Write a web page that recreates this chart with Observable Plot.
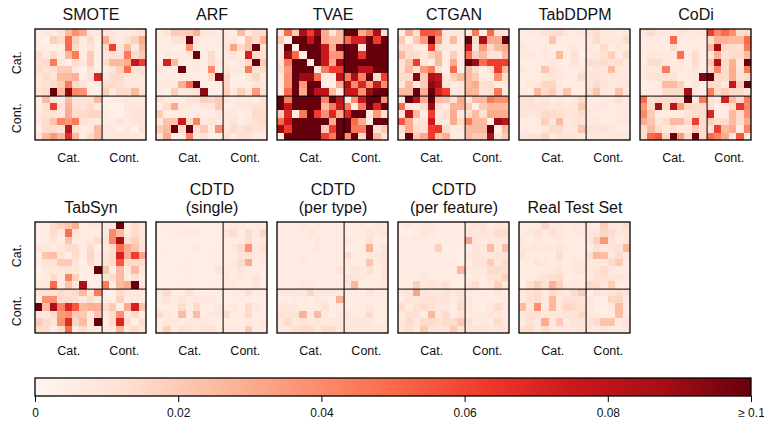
<!DOCTYPE html>
<html><head><meta charset="utf-8">
<script src="https://cdn.jsdelivr.net/npm/d3@7"></script>
<script src="https://cdn.jsdelivr.net/npm/@observablehq/plot@0.6"></script>
<style>html,body{margin:0;padding:0;background:#fff}svg{display:block}</style>
</head><body><div id="chart"></div>
<script>
// Cell values, in thousandths of the colour scale's unit
const smote=[
[4,8,6,10,25,38,30,8,8,10,8,6,6,8,12],
[6,3,18,14,50,18,6,14,4,30,10,6,12,18,30],
[6,6,4,4,50,14,6,10,4,14,62,10,25,8,25],
[14,6,14,6,25,45,6,20,4,10,12,10,45,14,20],
[12,14,45,8,3,14,8,20,4,14,25,25,30,78,62],
[14,10,12,20,20,8,3,12,4,6,10,18,50,12,12],
[8,14,10,25,25,28,6,10,70,8,14,14,8,8,8],
[8,10,14,18,45,14,10,4,4,14,14,12,8,8,8],
[12,14,100,25,92,40,38,4,4,18,8,14,14,25,10],
[6,25,10,8,25,10,12,12,25,4,6,6,8,8,8],
[6,12,62,10,28,12,10,14,6,4,3,3,8,8,8],
[8,12,10,8,30,14,14,16,16,6,3,3,8,10,10],
[8,14,22,42,35,45,12,8,8,6,6,10,6,10,10],
[4,14,14,10,80,12,6,6,25,8,8,4,8,3,12],
[10,25,35,25,68,25,6,14,25,8,8,8,8,8,6]];
const arf=[
[6,10,20,18,20,28,8,8,6,8,4,25,8,14,14],
[6,4,10,12,100,10,6,6,6,8,8,3,22,14,28],
[6,6,4,4,38,6,6,6,6,10,32,14,22,100,12],
[4,8,6,6,8,100,6,14,4,8,10,6,72,14,12],
[6,72,25,6,6,8,6,14,8,8,4,8,14,100,20],
[10,6,6,100,6,8,6,40,4,10,8,8,45,12,14],
[6,6,4,6,6,4,4,14,95,16,4,4,8,16,6],
[8,8,8,28,50,100,6,4,4,16,4,6,6,8,8],
[6,4,18,8,8,10,92,4,4,18,8,18,10,35,12],
[12,8,6,6,10,12,18,16,20,8,6,8,8,6,12],
[4,14,30,8,8,6,8,8,20,6,6,8,8,12,12],
[20,6,6,6,6,6,6,6,10,8,8,4,6,14,14],
[8,22,22,75,14,42,8,10,8,8,10,6,8,12,14],
[20,25,100,14,100,12,20,6,38,8,14,10,14,10,10],
[10,30,4,4,42,8,10,4,4,12,6,12,10,6,6]];
const tvae=[
[8,50,20,85,62,90,30,10,25,100,100,30,45,85,10],
[20,4,100,100,78,100,30,25,25,50,72,72,100,62,100],
[6,100,3,100,100,100,75,28,95,100,100,10,100,100,100],
[6,88,50,4,100,100,75,35,38,100,100,65,100,100,100],
[10,45,100,100,4,100,75,30,90,100,100,100,100,100,100],
[14,35,100,100,100,5,45,62,62,100,100,80,80,100,100],
[8,38,100,90,90,50,6,6,80,45,85,42,100,14,62],
[5,38,100,35,100,100,3,4,30,85,40,70,35,75,38],
[4,50,100,30,100,80,80,25,6,75,75,38,90,100,100],
[100,45,100,100,100,100,42,100,80,6,38,75,100,100,38],
[100,78,100,100,100,100,25,45,75,45,4,45,100,70,100],
[20,70,6,45,100,62,38,70,30,70,100,100,8,35,12],
[50,75,100,100,100,100,100,30,100,100,50,30,6,100,100],
[90,62,100,100,100,100,20,62,100,100,45,45,100,10,20],
[6,100,100,100,100,100,62,45,100,38,100,14,100,25,10]];
const ctgan=[
[6,30,12,55,55,50,8,8,8,6,45,5,50,12,10],
[20,4,20,35,100,35,8,25,6,100,14,85,30,30,100],
[14,14,6,6,62,12,8,6,6,75,10,35,14,25,30],
[25,14,14,8,18,25,6,18,6,50,18,25,10,10,25],
[12,22,62,8,4,25,6,30,6,100,90,50,62,62,62],
[12,25,12,35,45,12,4,50,4,25,14,6,12,62,25],
[14,14,95,20,85,78,8,18,25,25,20,6,6,38,14],
[8,25,6,20,92,85,10,6,8,25,30,12,14,5,8],
[25,25,100,28,100,72,62,8,8,28,25,10,12,45,8],
[8,100,80,30,100,25,22,12,30,8,25,25,45,38,38],
[48,8,6,14,90,12,6,28,28,20,4,20,25,25,25],
[10,82,25,6,62,6,12,30,6,14,25,12,30,30,30],
[55,30,8,12,75,10,8,30,14,45,25,25,3,90,80],
[12,30,14,12,62,65,14,6,8,25,25,25,100,4,25],
[6,100,20,30,62,20,28,6,6,25,20,20,85,10,20]];
const tabddpm=[
[6,8,6,10,12,14,8,6,8,10,14,8,8,6,8],
[6,4,6,6,22,6,6,6,6,8,14,8,8,8,14],
[8,6,6,6,6,6,6,8,6,8,6,14,6,8,6],
[8,8,6,8,6,25,6,12,4,6,8,12,18,6,14],
[6,4,6,6,8,6,6,10,6,14,12,14,10,14,6],
[8,6,6,22,10,8,6,6,8,8,10,10,25,8,8],
[6,6,6,8,10,8,6,6,14,10,10,8,8,8,8],
[4,8,8,16,16,8,4,6,6,10,14,10,8,8,10],
[6,6,25,14,20,8,22,6,4,14,22,8,8,22,8],
[10,12,8,10,6,8,6,8,14,6,6,8,8,12,8],
[10,12,10,10,8,10,8,8,20,6,8,8,6,8,6],
[10,8,10,14,14,12,10,8,14,8,6,6,6,8,8],
[6,6,6,18,8,25,8,10,10,8,8,6,6,8,8],
[6,6,6,8,14,14,8,8,22,10,10,10,8,6,6],
[8,12,10,16,6,12,10,10,8,8,8,6,8,8,8]];
const codi=[
[8,14,8,8,6,10,8,8,8,62,40,50,38,14,14],
[6,6,6,6,50,8,6,8,6,14,28,28,25,25,50],
[6,6,6,6,14,6,6,6,6,25,88,14,14,12,45],
[6,8,8,8,8,48,6,14,6,10,28,10,14,14,25],
[6,14,14,8,6,8,4,14,6,20,85,14,28,8,100],
[8,8,8,45,8,8,6,10,6,14,40,14,30,10,45],
[8,10,10,10,12,6,6,8,95,100,14,14,30,12,14],
[4,6,6,25,25,18,6,10,4,14,14,8,78,20,100],
[6,6,6,14,14,14,88,6,4,45,14,20,14,14,10],
[50,12,14,14,14,14,100,8,45,12,8,72,25,14,45],
[35,14,88,14,80,35,16,14,14,12,4,6,14,65,42],
[40,20,6,6,6,6,10,14,14,70,6,6,25,14,38],
[30,22,8,14,25,25,14,62,14,18,14,14,25,14,30],
[14,25,14,8,12,8,8,20,14,12,62,25,30,6,42],
[14,50,55,16,100,35,14,100,14,50,42,30,8,55,6]];
const tabsyn=[
[4,6,14,18,22,28,6,8,8,8,8,100,6,14,8],
[4,6,14,8,48,10,6,6,6,8,40,25,6,14,10],
[4,6,10,6,22,6,6,8,14,10,42,85,12,18,10],
[10,8,6,8,14,14,6,14,4,8,14,48,30,22,10],
[6,22,24,12,4,14,6,16,6,10,14,72,30,62,32],
[8,10,10,20,20,10,4,14,6,10,14,55,14,14,14],
[4,8,8,8,10,8,6,6,100,22,6,25,8,25,8],
[4,6,14,6,42,18,4,4,4,10,14,25,6,12,6],
[8,8,50,6,22,8,85,4,4,45,6,25,30,100,10],
[10,12,10,14,10,14,25,8,45,4,4,14,8,8,6],
[6,38,38,14,14,12,8,14,8,6,4,18,6,8,6],
[100,25,85,42,70,55,25,28,28,14,20,4,30,72,22],
[8,8,14,35,38,20,20,8,22,6,14,38,8,14,6],
[20,14,10,38,68,16,25,6,100,6,14,70,14,4,14],
[14,14,6,14,50,6,14,8,6,8,8,25,8,14,8]];
const cdtdSingle=[
[4,6,6,6,6,4,4,4,4,6,8,8,6,6,6],
[4,4,6,6,8,6,4,4,4,10,14,6,14,8,16],
[4,4,4,4,4,4,4,4,4,6,6,6,14,6,8],
[4,4,4,4,4,8,4,4,4,6,8,14,38,8,12],
[4,6,4,4,4,4,4,6,4,6,6,10,12,8,8],
[4,4,4,4,6,4,4,4,4,6,8,14,30,6,8],
[4,4,4,6,4,4,4,4,10,8,6,10,6,6,4],
[4,4,4,4,6,4,4,4,4,8,6,8,6,10,6],
[4,4,4,6,4,4,4,6,6,6,8,6,6,10,6],
[8,14,6,6,12,6,6,6,6,4,6,6,12,6,6],
[6,10,6,10,6,8,8,8,4,4,4,6,6,4,6],
[6,6,6,14,6,14,6,4,8,6,8,4,14,8,6],
[14,8,6,25,6,25,6,8,8,14,6,6,14,6,6],
[6,8,8,6,8,8,8,6,6,6,6,6,6,6,8],
[6,18,6,12,10,6,10,10,6,6,6,6,20,6,6]];
const cdtdType=[
[6,6,6,8,6,8,6,6,6,6,6,8,6,8,8],
[6,6,6,6,8,6,6,6,6,6,6,6,10,8,10],
[6,6,6,6,6,8,6,6,6,8,6,6,12,6,6],
[6,6,6,6,6,8,6,6,6,6,6,6,28,6,10],
[6,6,6,6,6,6,6,6,6,14,6,6,8,8,10],
[6,6,6,8,6,6,6,6,6,8,6,6,22,8,10],
[6,6,6,6,6,6,6,6,10,6,10,8,12,6,10],
[6,6,6,6,6,6,6,6,6,10,8,8,6,6,12],
[6,6,6,8,8,6,6,6,6,10,26,6,6,6,8],
[8,8,8,8,16,8,8,8,8,6,6,6,10,6,6],
[4,4,6,6,4,8,6,4,28,6,6,6,6,6,6],
[8,8,8,6,4,6,10,4,6,6,6,6,8,6,6],
[12,10,10,28,6,26,8,4,8,10,6,6,14,6,6],
[8,14,8,10,8,8,8,8,8,8,8,10,8,6,6],
[8,8,12,14,14,8,14,14,8,8,8,8,8,8,8]];
const cdtdFeature=[
[6,8,6,8,8,6,6,6,6,8,10,10,6,8,8],
[4,4,6,10,8,6,6,6,6,10,8,10,8,14,14],
[6,6,8,6,6,6,6,6,6,32,8,6,8,8,8],
[6,6,6,6,6,18,4,6,4,6,10,8,25,8,24],
[4,6,6,8,6,6,4,6,4,8,10,8,8,10,10],
[6,6,6,6,6,6,6,6,4,6,10,10,20,8,14],
[6,6,6,6,6,6,6,6,25,8,8,8,14,14,14],
[6,6,6,8,6,6,6,6,4,6,8,6,10,12,18],
[6,6,18,8,10,8,12,4,4,10,14,6,8,18,8],
[8,10,32,10,8,8,10,8,12,6,6,8,6,8,6],
[6,10,8,10,12,10,10,6,10,8,6,6,6,6,6],
[14,6,12,14,10,8,8,4,14,8,6,4,8,14,8],
[8,12,12,6,26,8,14,6,8,8,8,6,10,8,6],
[8,14,8,14,14,12,14,14,20,12,6,8,6,14,8],
[8,12,6,20,10,10,10,20,10,10,10,10,8,10,10]];
const realTest=[
[6,6,6,16,8,8,6,8,8,8,6,18,8,8,14],
[6,8,12,8,12,8,6,6,8,8,10,16,14,8,10],
[8,4,8,6,6,8,6,6,6,8,18,36,10,6,10],
[8,8,8,8,8,10,8,6,6,6,12,8,10,10,26],
[10,6,6,6,6,14,6,6,6,12,26,24,8,14,8],
[6,6,10,8,6,8,6,8,8,8,8,8,14,20,6],
[6,6,6,6,8,10,6,8,10,8,10,14,8,6,6],
[4,6,8,10,12,14,6,6,6,8,12,12,10,10,8],
[4,12,18,12,28,18,8,8,8,16,14,8,18,6,6],
[8,10,14,8,14,10,8,14,20,4,12,8,10,14,10],
[8,12,14,8,26,8,12,12,10,8,4,4,16,16,8],
[25,8,38,8,26,8,16,14,12,8,4,4,8,25,6],
[8,12,12,8,8,8,10,10,16,10,6,6,6,24,6],
[6,12,8,30,8,20,6,10,10,10,14,22,22,6,10],
[12,14,8,14,8,8,8,8,10,8,8,10,8,8,8]];

const titles=["SMOTE","ARF","TVAE","CTGAN","TabDDPM","CoDi","TabSyn","CDTD\n(single)","CDTD\n(per type)","CDTD\n(per feature)","Real Test Set"];
const matrices=[smote,arf,tvae,ctgan,tabddpm,codi,tabsyn,cdtdSingle,cdtdType,cdtdFeature,realTest];
const groupLabels=["Cat.","Cont."];
const groupCentres=[4.5,12];
const groupSplit=9;
const cbTicks=[0,0.02,0.04,0.06,0.08,0.1];
const cbLabels=["0","0.02","0.04","0.06","0.08","≥ 0.1"];
const redsStops=["#fff5f0","#fee0d2","#fcbba1","#fc9272","#fb6a4a","#ef3b2c","#cb181d","#a50f15","#67000d"];

const colorScale={type:"linear",domain:redsStops.map((_,i)=>i/8*0.1),range:redsStops,clamp:true};
const FONT="'Liberation Sans',Helvetica,Arial,sans-serif";

const panels=titles.map((title,i)=>({title,col:i%6,row:i<6?0:1}));
const cells=matrices.flatMap((m,p)=>m.flatMap((r,i)=>r.map((v,j)=>({col:panels[p].col,row:panels[p].row,i,j,v:v/1000}))));
const xLabels=panels.flatMap(p=>groupLabels.map((label,k)=>({...p,label,pos:groupCentres[k]})));
const yLabels=xLabels.filter(d=>d.col===0);

const chart=Plot.plot({
  width:764,height:360,marginLeft:35,marginRight:13,marginTop:29,marginBottom:27,
  style:{fontFamily:FONT,background:"#fff"},
  fx:{domain:d3.range(6),axis:null,paddingInner:10/121,paddingOuter:0,round:false},
  fy:{domain:[0,1],axis:null,paddingInner:82/193,paddingOuter:0,round:false},
  x:{domain:[0,15],axis:null},
  y:{domain:[15,0],axis:null},
  color:colorScale,
  marks:[
    Plot.rect(cells,{fx:"col",fy:"row",x1:"j",x2:d=>d.j+1,y1:"i",y2:d=>d.i+1,fill:"v",shapeRendering:"crispEdges"}),
    Plot.ruleX(panels,{fx:"col",fy:"row",x:()=>groupSplit,y1:0,y2:15,stroke:"#000",strokeWidth:1}),
    Plot.ruleY(panels,{fx:"col",fy:"row",y:()=>groupSplit,x1:0,x2:15,stroke:"#000",strokeWidth:1}),
    Plot.rect(panels,{fx:"col",fy:"row",x1:0,x2:15,y1:0,y2:15,fill:"none",stroke:"#000",strokeWidth:1.3}),
    Plot.text(panels,{fx:"col",fy:"row",x:7.5,y:0,text:"title",dy:-10,lineAnchor:"bottom",lineHeight:1.09,fontSize:16,fill:"#111"}),
    Plot.text(xLabels,{fx:"col",fy:"row",x:"pos",y:15,text:"label",dy:17,lineAnchor:"middle",fontSize:12.5,fill:"#111"}),
    Plot.text(yLabels,{fx:"col",fy:"row",x:0,y:"pos",text:"label",dx:-19,rotate:-90,lineAnchor:"middle",fontSize:12.5,fill:"#111"})
  ]
});

const ramp=d3.range(358).map(i=>i/358*0.1);
const colorbar=Plot.plot({
  width:764,height:64,marginLeft:35,marginRight:13,marginTop:18,marginBottom:28,
  style:{fontFamily:FONT,background:"#fff",fontSize:"12px"},
  x:{domain:[0,0.1]},
  y:{domain:[0,1],axis:null},
  color:colorScale,
  marks:[
    Plot.rect(ramp,{x1:d=>d,x2:d=>d+0.1/358,y1:0,y2:1,fill:d=>d,shapeRendering:"crispEdges"}),
    Plot.rect([0],{x1:0,x2:0.1,y1:0,y2:1,fill:"none",stroke:"#000",strokeWidth:1.3}),
    Plot.axisX({ticks:cbTicks,tickFormat:(d,i)=>cbLabels[i],tickSize:6,tickPadding:6,label:null,fontSize:12,stroke:"#000",fill:"#111"})
  ]
});

const root=document.getElementById("chart");
root.append(chart,colorbar);
</script>
</body></html>
